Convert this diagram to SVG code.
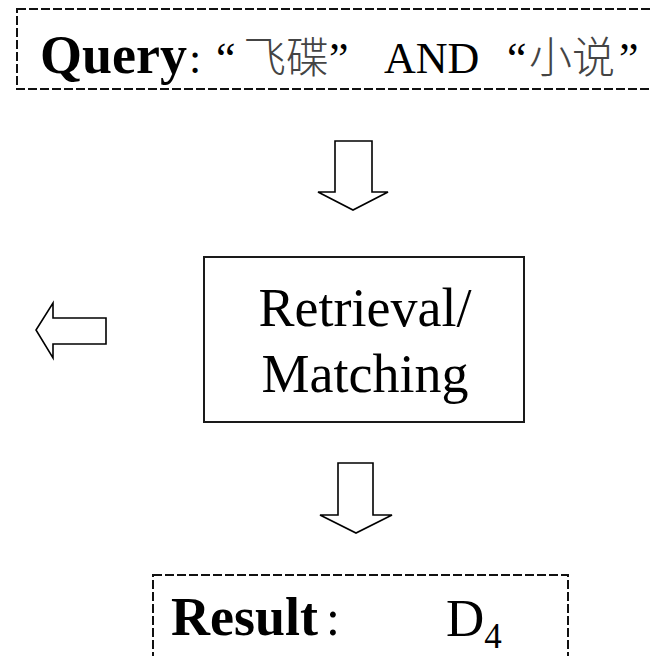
<svg xmlns="http://www.w3.org/2000/svg" width="650" height="656" viewBox="0 0 650 656">
<style>
.dash{fill:none;stroke:#111;stroke-width:2;stroke-dasharray:9 3}
.box{fill:#fff;stroke:#1a1a1a;stroke-width:2}
.arr{fill:#fff;stroke:#000;stroke-width:1.6;stroke-linejoin:miter}
.tr{font-family:"Liberation Serif","Times New Roman",serif;fill:#000}
.b{font-weight:bold}
.cjk{font-family:"Liberation Serif","Noto Sans CJK SC",serif;fill:#444;font-weight:300}
</style>
<rect width="650" height="656" fill="#fff"/>
<g id="query">
<rect class="dash" x="17" y="9" width="660" height="80"/>
<text class="tr b" x="40" y="73" font-size="54">Query</text>
<text class="tr" x="189" y="73" font-size="44">:</text>
<text class="tr" x="216" y="73" font-size="44">“</text>
<text class="cjk" x="243" y="73" font-size="43">飞碟</text>
<text class="tr" x="329" y="73" font-size="44">”</text>
<text class="tr" x="384" y="73" font-size="44">AND</text>
<text class="tr" x="507" y="73" font-size="44">“</text>
<text class="cjk" x="529" y="73" font-size="43">小说</text>
<text class="tr" x="619" y="73" font-size="44">”</text>
</g>
<g id="retrieval">
<rect class="box" x="204" y="257" width="320" height="165"/>
<text class="tr" x="365" y="326" font-size="54" text-anchor="middle">Retrieval/</text>
<text class="tr" x="365" y="392" font-size="54" text-anchor="middle">Matching</text>
</g>
<g id="result">
<rect class="dash" x="153" y="575" width="415" height="120"/>
<text class="tr b" x="171" y="635" font-size="54">Result</text>
<text class="tr" x="326" y="635" font-size="50">:</text>
<text class="tr" x="446" y="636" font-size="53">D<tspan font-size="35" dy="12">4</tspan></text>
</g>
<g id="connectors">
<path class="arr" d="M335,141 H372 V192 H388 L353,210 L318,192 H335 Z"/>
<path class="arr" d="M338,463 H373 V515 H392 L356,533 L320,515 H338 Z"/>
<path class="arr" d="M106,318 V344 H53 V358 L36,330 L53,303 V318 Z"/>
</g>
</svg>
